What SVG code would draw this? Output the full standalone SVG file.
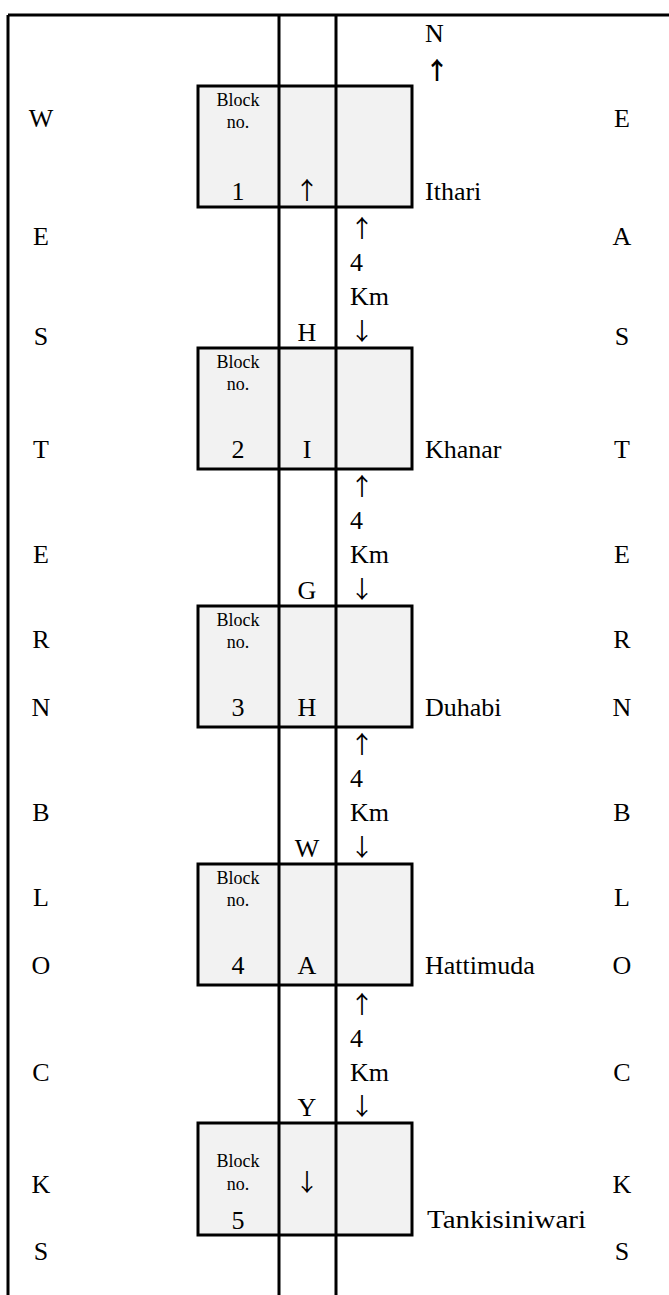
<svg xmlns="http://www.w3.org/2000/svg" width="669" height="1295" viewBox="0 0 669 1295">
  <style>
    .t { font-family: "Liberation Serif", "Times New Roman", serif; font-size: 26px; fill: #000; }
    .s { font-family: "Liberation Serif", "Times New Roman", serif; font-size: 18px; fill: #000; }
    .a { font-family: "Noto Sans CJK JP", "Noto Sans CJK SC", sans-serif; font-size: 24px; fill: #000; text-anchor: middle; }
    .ab { font-weight: bold; }
    .m { text-anchor: middle; }
    .ln { stroke: #000; stroke-width: 3; fill: none; }
    .box { fill: #f2f2f2; stroke: #000; stroke-width: 3; }
  </style>

  <rect x="0" y="0" width="669" height="1295" fill="#fff"/>

  <!-- blocks (drawn first so the road lines run over them) -->
  <g id="block1"><rect class="box" x="198" y="86" width="214" height="121"/>
    <text class="s m" x="238" y="106">Block</text><text class="s m" x="238" y="128">no.</text>
    <text class="t m" x="238" y="200">1</text><text class="a" x="307" y="199">↑</text></g>
  <g id="block2"><rect class="box" x="198" y="348" width="214" height="121"/>
    <text class="s m" x="238" y="368">Block</text><text class="s m" x="238" y="390">no.</text>
    <text class="t m" x="238" y="458">2</text><text class="t m" x="307" y="458">I</text></g>
  <g id="block3"><rect class="box" x="198" y="606" width="214" height="121"/>
    <text class="s m" x="238" y="626">Block</text><text class="s m" x="238" y="648">no.</text>
    <text class="t m" x="238" y="716">3</text><text class="t m" x="307" y="716">H</text></g>
  <g id="block4"><rect class="box" x="198" y="864" width="214" height="121"/>
    <text class="s m" x="238" y="884">Block</text><text class="s m" x="238" y="906">no.</text>
    <text class="t m" x="238" y="974">4</text><text class="t m" x="307" y="974">A</text></g>
  <g id="block5"><rect class="box" x="198" y="1123" width="214" height="112"/>
    <text class="s m" x="238" y="1167">Block</text><text class="s m" x="238" y="1190">no.</text>
    <text class="t m" x="238" y="1229">5</text><text class="a" x="307" y="1191">↓</text></g>

  <!-- frame and road lines -->
  <g id="connectors">
    <line class="ln" x1="8" y1="15" x2="669" y2="15"/>
    <line class="ln" x1="8" y1="15" x2="8" y2="1295"/>
    <line class="ln" x1="279" y1="15" x2="279" y2="1295"/>
    <line class="ln" x1="336" y1="15" x2="336" y2="1295"/>
  </g>

  <!-- north marker -->
  <g id="north">
    <text class="t" x="425" y="42">N</text>
    <text class="a ab" x="437" y="79">↑</text>
  </g>

  <!-- village names -->
  <g id="villages">
    <text class="t" x="425" y="200">Ithari</text>
    <text class="t" x="425" y="458">Khanar</text>
    <text class="t" x="425" y="716">Duhabi</text>
    <text class="t" x="425" y="974">Hattimuda</text>
    <text class="t" x="427" y="1228" textLength="159" lengthAdjust="spacingAndGlyphs">Tankisiniwari</text>
  </g>

  <!-- distances between blocks -->
  <g id="distances">
    <text class="a" x="362" y="237">↑</text><text class="t" x="350" y="271">4</text>
    <text class="t" x="350" y="305">Km</text><text class="a" x="362" y="340">↓</text>
    <text class="t m" x="307" y="341">H</text>

    <text class="a" x="362" y="495">↑</text><text class="t" x="350" y="529">4</text>
    <text class="t" x="350" y="563">Km</text><text class="a" x="362" y="598">↓</text>
    <text class="t m" x="307" y="599">G</text>

    <text class="a" x="362" y="753">↑</text><text class="t" x="350" y="787">4</text>
    <text class="t" x="350" y="821">Km</text><text class="a" x="362" y="856">↓</text>
    <text class="t m" x="307" y="857">W</text>

    <text class="a" x="362" y="1013">↑</text><text class="t" x="350" y="1047">4</text>
    <text class="t" x="350" y="1081">Km</text><text class="a" x="362" y="1115">↓</text>
    <text class="t m" x="307" y="1116">Y</text>
  </g>

  <!-- side labels -->
  <g id="western">
    <text class="t m" x="41" y="127">W</text><text class="t m" x="41" y="245">E</text>
    <text class="t m" x="41" y="345">S</text><text class="t m" x="41" y="458">T</text>
    <text class="t m" x="41" y="563">E</text><text class="t m" x="41" y="648">R</text>
    <text class="t m" x="41" y="716">N</text><text class="t m" x="41" y="821">B</text>
    <text class="t m" x="41" y="906">L</text><text class="t m" x="41" y="974">O</text>
    <text class="t m" x="41" y="1081">C</text><text class="t m" x="41" y="1193">K</text>
    <text class="t m" x="41" y="1260">S</text>
  </g>
  <g id="eastern">
    <text class="t m" x="622" y="127">E</text><text class="t m" x="622" y="245">A</text>
    <text class="t m" x="622" y="345">S</text><text class="t m" x="622" y="458">T</text>
    <text class="t m" x="622" y="563">E</text><text class="t m" x="622" y="648">R</text>
    <text class="t m" x="622" y="716">N</text><text class="t m" x="622" y="821">B</text>
    <text class="t m" x="622" y="906">L</text><text class="t m" x="622" y="974">O</text>
    <text class="t m" x="622" y="1081">C</text><text class="t m" x="622" y="1193">K</text>
    <text class="t m" x="622" y="1260">S</text>
  </g>
</svg>
